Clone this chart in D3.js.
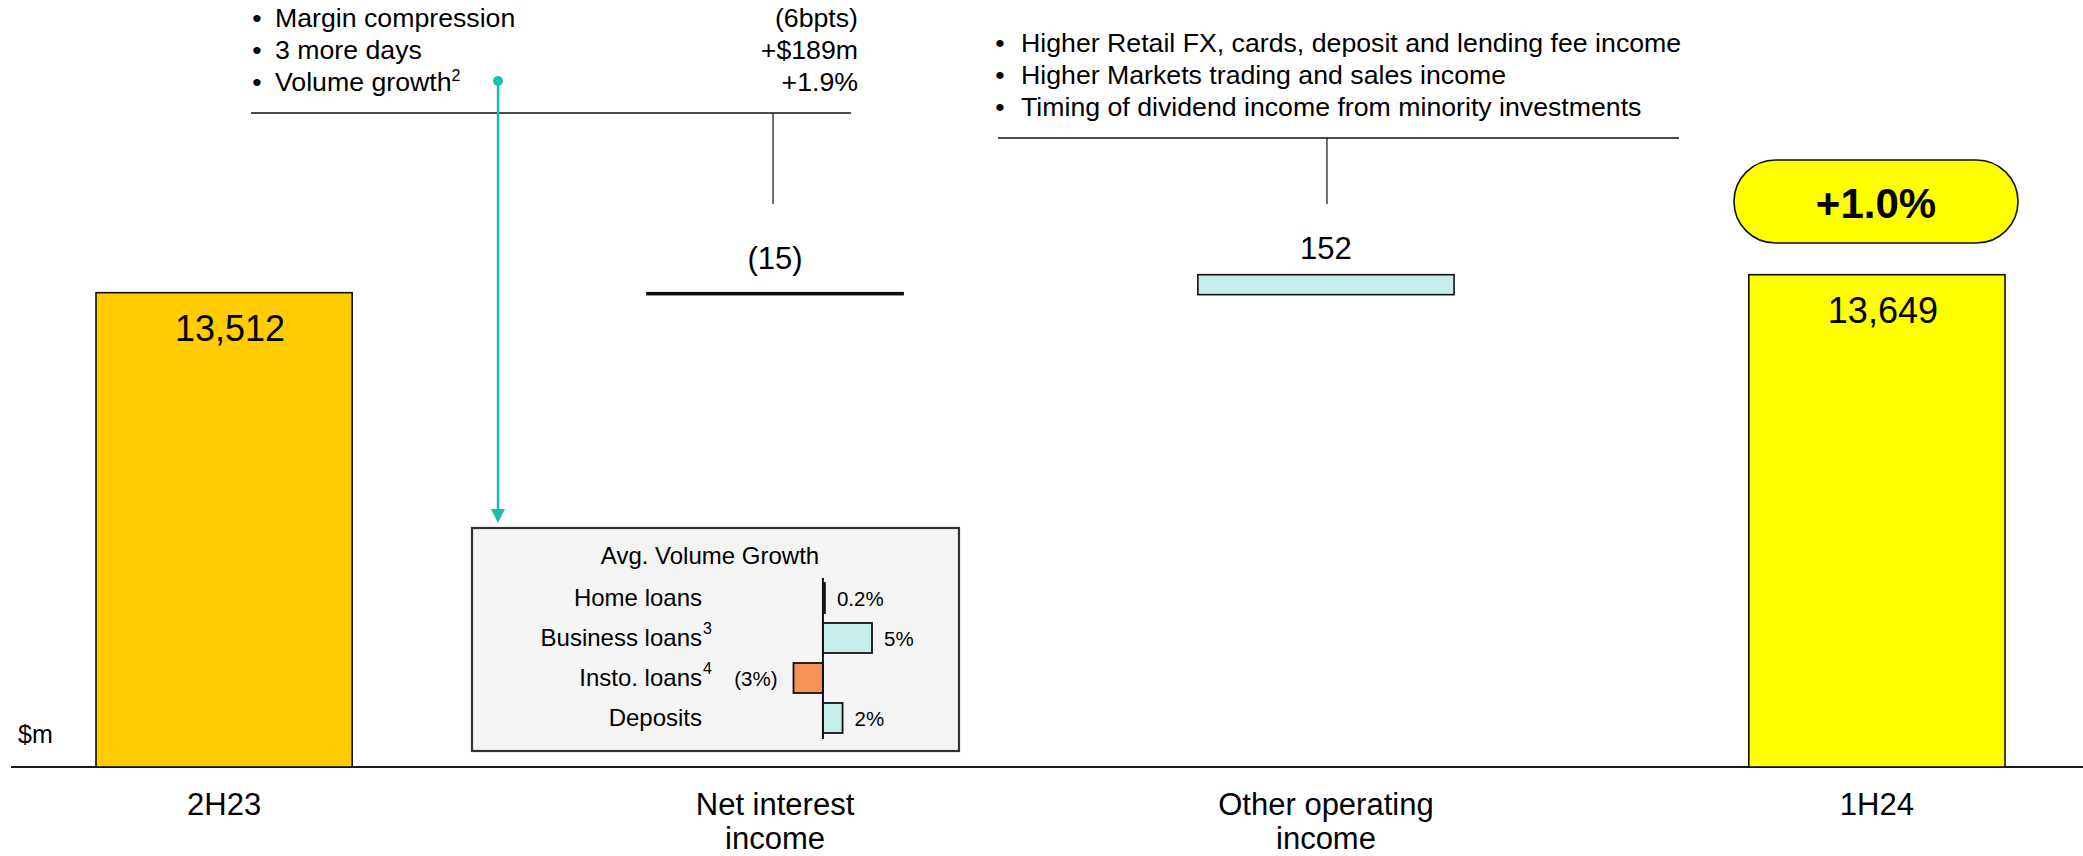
<!DOCTYPE html>
<html>
<head>
<meta charset="utf-8">
<script src="https://cdn.jsdelivr.net/npm/d3@7"></script>
<style>
  html, body { margin: 0; padding: 0; background: #ffffff; }
  svg { display: block; font-family: "Liberation Sans", Arial, "DejaVu Sans", sans-serif; }
</style>
</head>
<body>
<script>
// ---------------- DATA ----------------
const categories = ["2H23", "Net interest income", "Other operating income", "1H24"];
const categoryLines = [["2H23"], ["Net interest", "income"], ["Other operating", "income"], ["1H24"]];
const values = [13512, -15, 152, 13649];
const valueLabels = ["13,512", "(15)", "152", "13,649"];
const barKinds = ["total", "delta", "delta", "total"];
const growthLabel = "+1.0%";
const unitLabel = "$m";

const niiBullets = ["Margin compression", "3 more days", "Volume growth"];
const niiBulletSups = ["", "", "2"];
const niiBulletValues = ["(6bpts)", "+$189m", "+1.9%"];
const ooiBullets = [
  "Higher Retail FX, cards, deposit and lending fee income",
  "Higher Markets trading and sales income",
  "Timing of dividend income from minority investments"
];

const insetTitle = "Avg. Volume Growth";
const insetCats = ["Home loans", "Business loans", "Insto. loans", "Deposits"];
const insetSups = ["", "3", "4", ""];
const insetValues = [0.2, 5, -3, 2];
const insetValueLabels = ["0.2%", "5%", "(3%)", "2%"];

// ---------------- LAYOUT ----------------
const W = 2083, H = 856;
const baseY = 767;
const svg = d3.select("body").append("svg").attr("width", W).attr("height", H);

const x = d3.scaleBand().domain(categories).range([96, 2005]).paddingInner(0.535).paddingOuter(0);
const y = d3.scaleLinear().domain([9900, 13700]).range([baseY, 268]).clamp(true);

const barFill = ["#ffcc00", "#000000", "#c5eeea", "#ffff00"];

// waterfall geometry
let running = 0;
const bars = values.map((v, i) => {
  if (barKinds[i] === "total") { running = v; return { cat: categories[i], lo: 0, hi: v, v }; }
  const s = running; running += v;
  return { cat: categories[i], lo: Math.min(s, running), hi: Math.max(s, running), v };
});

// axis baseline
svg.append("line").attr("x1", 11).attr("x2", W).attr("y1", baseY).attr("y2", baseY)
  .attr("stroke", "#1a1a1a").attr("stroke-width", 2.2);

// bars
svg.selectAll("rect.bar").data(bars).join("rect")
  .attr("class", "bar")
  .attr("x", d => x(d.cat))
  .attr("width", x.bandwidth())
  .attr("y", d => y(d.hi))
  .attr("height", d => Math.max(1, y(d.lo) - y(d.hi)))
  .attr("fill", (d, i) => barFill[i])
  .attr("stroke", "#111")
  .attr("stroke-width", 1.6);

// value labels
const labelDy = [48, -24, -16, 48];
svg.selectAll("text.val").data(bars).join("text")
  .attr("class", "val")
  .attr("x", (d, i) => x(d.cat) + x.bandwidth() / 2 + (barKinds[i] === "total" ? 6 : 0))
  .attr("y", (d, i) => y(d.hi) + labelDy[i])
  .attr("text-anchor", "middle")
  .attr("font-size", (d, i) => barKinds[i] === "total" ? 36 : 31)
  .attr("fill", "#000")
  .text((d, i) => valueLabels[i]);

// category labels
categories.forEach((c, i) => {
  const t = svg.append("text")
    .attr("x", x(c) + x.bandwidth() / 2)
    .attr("y", 815)
    .attr("text-anchor", "middle")
    .attr("font-size", 31)
    .attr("fill", "#000");
  categoryLines[i].forEach((ln, j) => {
    t.append("tspan").attr("x", x(c) + x.bandwidth() / 2).attr("dy", j === 0 ? 0 : 34).text(ln);
  });
});

// unit label
svg.append("text").attr("x", 18).attr("y", 743).attr("font-size", 25).attr("fill", "#000").text(unitLabel);

// growth pill
svg.append("rect").attr("x", 1734).attr("y", 160).attr("width", 284).attr("height", 83)
  .attr("rx", 41.5).attr("ry", 41.5).attr("fill", "#ffff00").attr("stroke", "#111").attr("stroke-width", 1.6);
svg.append("text").attr("x", 1876).attr("y", 218).attr("text-anchor", "middle")
  .attr("font-size", 42).attr("font-weight", "bold").attr("fill", "#000").text(growthLabel);

// ---------------- NII commentary ----------------
const bulletFont = 26.7;
const niiCx = x(categories[1]) + x.bandwidth() / 2 - 2;
niiBullets.forEach((b, i) => {
  const by = 27 + i * 32;
  svg.append("text").attr("x", 257).attr("y", by).attr("text-anchor", "middle").attr("font-size", bulletFont).text("•");
  const t = svg.append("text").attr("x", 275).attr("y", by).attr("font-size", bulletFont).attr("fill", "#000").text(b);
  if (niiBulletSups[i]) t.append("tspan").attr("font-size", 16).attr("dy", -10).text(niiBulletSups[i]);
  svg.append("text").attr("x", 858).attr("y", by).attr("text-anchor", "end").attr("font-size", bulletFont).attr("fill", "#000").text(niiBulletValues[i]);
});
svg.append("line").attr("x1", 251).attr("x2", 851).attr("y1", 113).attr("y2", 113).attr("stroke", "#111").attr("stroke-width", 1.6);
svg.append("line").attr("x1", niiCx).attr("x2", niiCx).attr("y1", 113).attr("y2", 204).attr("stroke", "#111").attr("stroke-width", 1.2);

// ---------------- OOI commentary ----------------
const ooiCx = x(categories[2]) + x.bandwidth() / 2 + 1;
ooiBullets.forEach((b, i) => {
  const by = 52 + i * 31.8;
  svg.append("text").attr("x", 1000).attr("y", by).attr("text-anchor", "middle").attr("font-size", bulletFont).text("•");
  svg.append("text").attr("x", 1021).attr("y", by).attr("font-size", bulletFont).attr("fill", "#000").text(b);
});
svg.append("line").attr("x1", 998).attr("x2", 1679).attr("y1", 138).attr("y2", 138).attr("stroke", "#111").attr("stroke-width", 1.6);
svg.append("line").attr("x1", ooiCx).attr("x2", ooiCx).attr("y1", 138).attr("y2", 204).attr("stroke", "#111").attr("stroke-width", 1.2);

// ---------------- teal pointer ----------------
const teal = "#1dbdae";
svg.append("line").attr("x1", 498).attr("x2", 498).attr("y1", 81).attr("y2", 510).attr("stroke", teal).attr("stroke-width", 2.4);
svg.append("circle").attr("cx", 498).attr("cy", 81).attr("r", 5).attr("fill", teal);
svg.append("path").attr("d", "M491,509 L505,509 L498,523 Z").attr("fill", teal);

// ---------------- inset ----------------
const inset = svg.append("g");
inset.append("rect").attr("x", 472).attr("y", 528).attr("width", 487).attr("height", 223)
  .attr("fill", "#f4f4f4").attr("stroke", "#333").attr("stroke-width", 2.2);
inset.append("text").attr("x", 710).attr("y", 564).attr("text-anchor", "middle").attr("font-size", 24).attr("fill", "#000").text(insetTitle);

const xi = d3.scaleLinear().domain([-3, 5]).range([793.5, 872]);
const yi = d3.scaleBand().domain(insetCats).range([578, 738]).paddingInner(0.25).paddingOuter(0.125);

inset.selectAll("rect.ib").data(insetValues).join("rect")
  .attr("class", "ib")
  .attr("x", d => xi(Math.min(0, d)))
  .attr("width", d => Math.abs(xi(d) - xi(0)))
  .attr("y", (d, i) => yi(insetCats[i]))
  .attr("height", yi.bandwidth())
  .attr("fill", d => d < 0 ? "#f79256" : "#c5eeea")
  .attr("stroke", "#111").attr("stroke-width", 1.8);

inset.append("line").attr("x1", xi(0)).attr("x2", xi(0)).attr("y1", 578).attr("y2", 739)
  .attr("stroke", "#111").attr("stroke-width", 2);

insetCats.forEach((c, i) => {
  const cy = yi(c) + yi.bandwidth() / 2;
  inset.append("text").attr("x", 702).attr("y", cy + 8).attr("text-anchor", "end")
    .attr("font-size", 24).attr("fill", "#000").text(c);
  if (insetSups[i]) {
    inset.append("text").attr("x", 703).attr("y", cy - 4).attr("font-size", 16).attr("fill", "#000").text(insetSups[i]);
  }
  const v = insetValues[i];
  inset.append("text")
    .attr("x", v < 0 ? xi(v) - 16 : xi(v) + 12)
    .attr("y", cy + 8)
    .attr("text-anchor", v < 0 ? "end" : "start")
    .attr("font-size", 20.5).attr("fill", "#000")
    .text(insetValueLabels[i]);
});
</script>
</body>
</html>
